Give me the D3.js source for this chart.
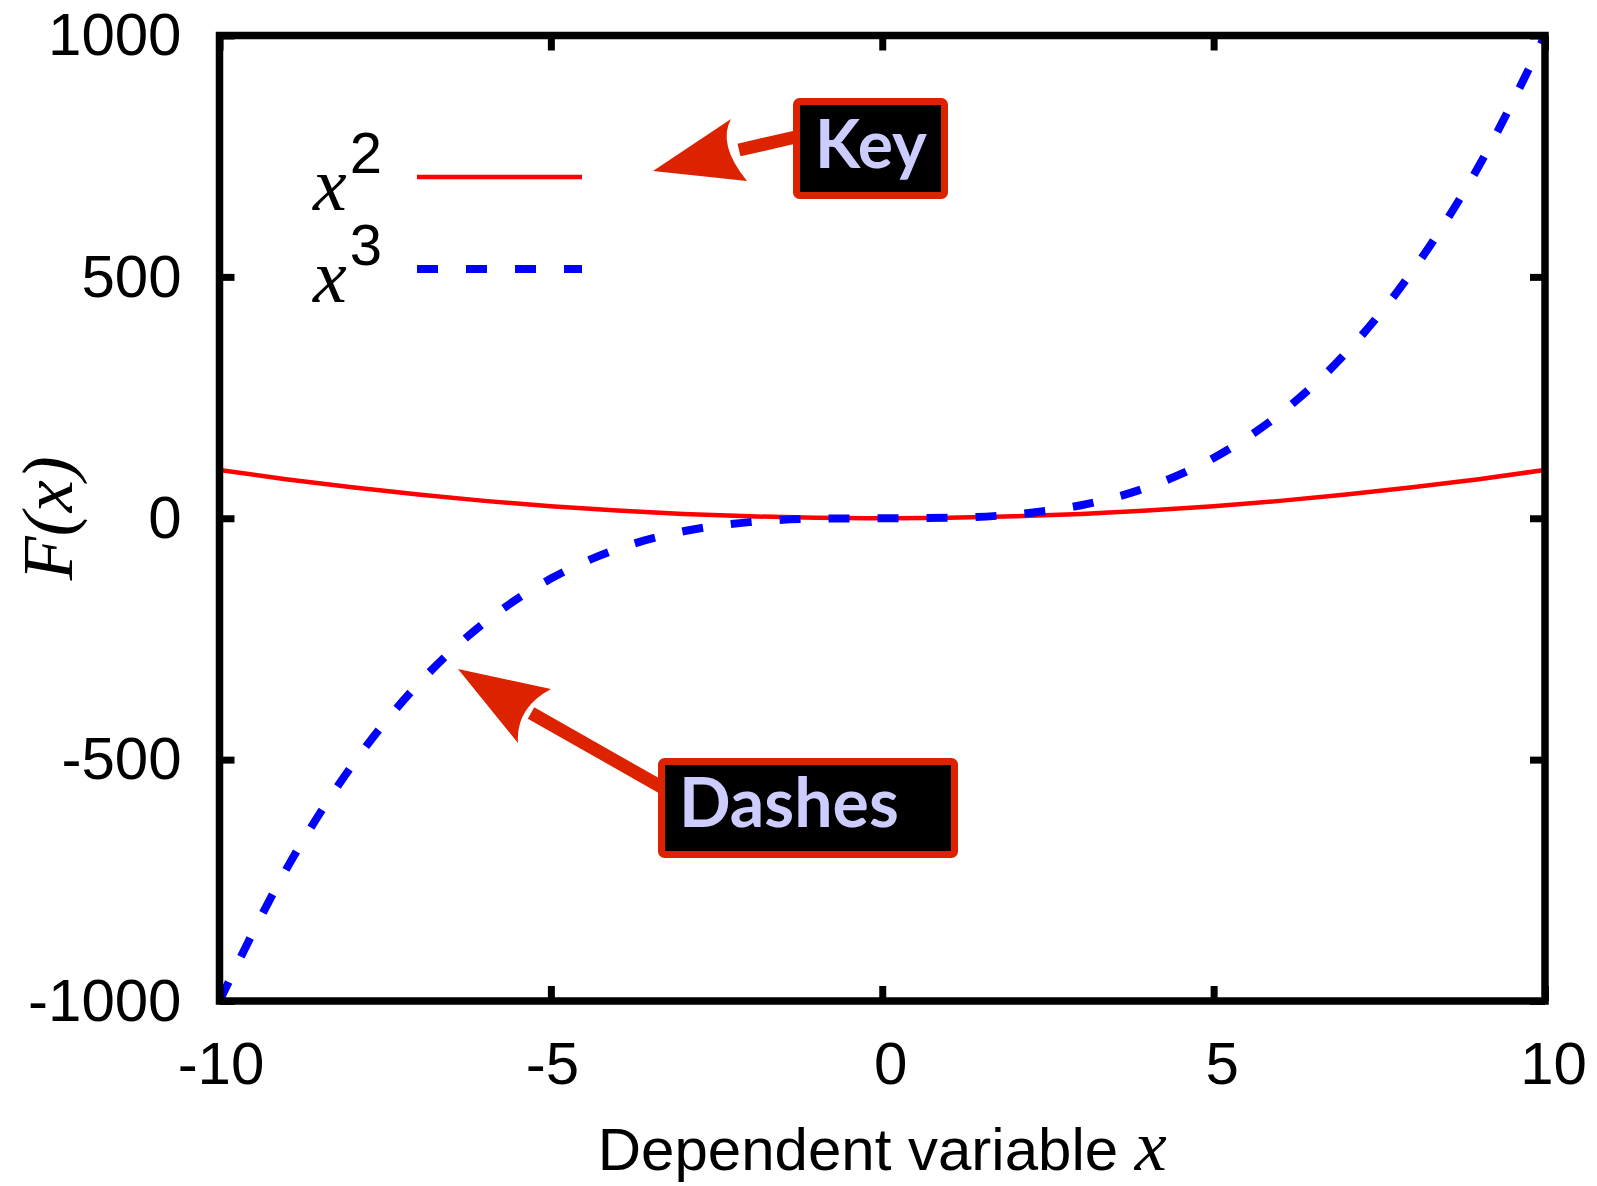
<!DOCTYPE html>
<html>
<head>
<meta charset="utf-8">
<script src="https://cdn.jsdelivr.net/npm/d3@7"></script>
<style>
    body { margin: 0; background: #fff; }
    svg { display: block; }
    .axis text { font-family: "Liberation Sans", Arial, Helvetica, sans-serif; font-size: 60px; fill: #000; }
    .math { font-family: "Liberation Serif", "Times New Roman", serif; font-style: italic; }
    .sans { font-family: "Liberation Sans", Arial, Helvetica, sans-serif; }
    .callout { font-family: Lato, "Open Sans", sans-serif; font-weight: 700; fill: #ccccff; }
</style>
</head>
<body>
<div id="chart"></div>
<script>
// values
const xValues = [-10, -9, -8, -7, -6, -5, -4, -3, -2, -1, 0, 1, 2, 3, 4, 5, 6, 7, 8, 9, 10];
const squareValues = [100, 81, 64, 49, 36, 25, 16, 9, 4, 1, 0, 1, 4, 9, 16, 25, 36, 49, 64, 81, 100];
const cubeValues = [-1000, -729, -512, -343, -216, -125, -64, -27, -8, -1, 0, 1, 8, 27, 64, 125, 216, 343, 512, 729, 1000];
const xTicks = [-10, -5, 0, 5, 10];
const yTicks = [-1000, -500, 0, 500, 1000];
const seriesNames = ["2", "3"];   // superscripts of x in the key
const xTitle = "Dependent variable ";
const yTitle = "F(x)";
const calloutLabels = ["Key", "Dashes"];

const W = 1597, H = 1186;
const frame = {left: 219.5, right: 1545, top: 35.5, bottom: 1001};
const red = "#ff0000", blue = "#0000ff", calloutRed = "#dd2200";

// plain labels like gnuplot: hyphen minus, no thousands separator
const plain = d => String(d);

const svg = d3.select("#chart").append("svg")
    .attr("width", W)
    .attr("height", H);

const x = d3.scaleLinear().domain([-10, 10]).range([frame.left, frame.right]);
const y = d3.scaleLinear().domain([-1000, 1000]).range([frame.bottom, frame.top]);

const series = [
    {name: seriesNames[0], values: squareValues, color: red, width: 4.5, dash: null},
    {name: seriesNames[1], values: cubeValues, color: blue, width: 8, dash: "21,28"}
];

// curves
const line = d3.line()
    .x(d => x(d[0]))
    .y(d => y(d[1]))
    .curve(d3.curveMonotoneX);

svg.selectAll(".curve")
    .data(series)
    .enter().append("path")
    .attr("class", "curve")
    .attr("d", s => line(xValues.map((v, i) => [v, s.values[i]])))
    .attr("fill", "none")
    .attr("stroke", s => s.color)
    .attr("stroke-width", s => s.width)
    .attr("stroke-dasharray", s => s.dash)
    .attr("stroke-linecap", "butt");

// axes, ticks point inward and are mirrored on top / right
function styleAxis(g) {
    g.attr("font-size", null).attr("font-family", null);
    g.select(".domain").remove();
    g.selectAll(".tick line").attr("stroke", "#000").attr("stroke-width", 7);
}

svg.append("g")
    .attr("class", "axis x-axis")
    .attr("transform", `translate(0,${frame.bottom})`)
    .call(d3.axisBottom(x).tickValues(xTicks).tickFormat(plain)
        .tickSizeInner(-15).tickSizeOuter(0).tickPadding(40))
    .call(styleAxis)
    .selectAll(".tick text").attr("dx", d => d >= 0 ? 8 : 1);

svg.append("g")
    .attr("class", "axis")
    .attr("transform", `translate(0,${frame.top})`)
    .call(d3.axisTop(x).tickValues(xTicks).tickSizeInner(-15).tickSizeOuter(0).tickFormat(""))
    .call(styleAxis);

svg.append("g")
    .attr("class", "axis y-axis")
    .attr("transform", `translate(${frame.left},0)`)
    .call(d3.axisLeft(y).tickValues(yTicks).tickFormat(plain)
        .tickSizeInner(-15).tickSizeOuter(0).tickPadding(38))
    .call(styleAxis);

svg.append("g")
    .attr("class", "axis")
    .attr("transform", `translate(${frame.right},0)`)
    .call(d3.axisRight(y).tickValues(yTicks).tickSizeInner(-15).tickSizeOuter(0).tickFormat(""))
    .call(styleAxis);

// border
svg.append("rect")
    .attr("x", frame.left)
    .attr("y", frame.top)
    .attr("width", frame.right - frame.left)
    .attr("height", frame.bottom - frame.top)
    .attr("fill", "none")
    .attr("stroke", "#000")
    .attr("stroke-width", 7.5);

// axis titles
const xt = svg.append("text")
    .attr("x", (frame.left + frame.right) / 2)
    .attr("y", 1170)
    .attr("text-anchor", "middle");
xt.append("tspan").attr("class", "sans").attr("font-size", 60).text(xTitle);
xt.append("tspan").attr("class", "math").attr("font-size", 72).text("x");

svg.append("text")
    .attr("class", "math")
    .attr("transform", `translate(48,${(frame.top + frame.bottom) / 2}) rotate(-90)`)
    .attr("text-anchor", "middle")
    .attr("dominant-baseline", "central")
    .attr("font-size", 72)
    .text(yTitle);

// key
const key = svg.selectAll(".key")
    .data(series)
    .enter().append("g")
    .attr("class", "key")
    .attr("transform", (d, i) => `translate(0,${i * 92})`);

const keyText = key.append("text")
    .attr("x", 313)
    .attr("y", 210);
keyText.append("tspan").attr("class", "math").attr("font-size", 76).text("x");
keyText.append("tspan").attr("class", "sans").attr("font-size", 58)
    .attr("dx", 3).attr("dy", -37).text(d => d.name);

key.append("line")
    .attr("x1", 417).attr("x2", 582)
    .attr("y1", 177).attr("y2", 177)
    .attr("stroke", d => d.color)
    .attr("stroke-width", d => d.width)
    .attr("stroke-dasharray", d => d.dash);

// callouts
const callouts = [
    {label: calloutLabels[0], size: 66, box: [796.5, 101.5, 148, 94], text: [815, 168],
     head: "M653,171 L731,119 Q717,144 747,181 Z", shaft: [739, 150, 800, 136]},
    {label: calloutLabels[1], size: 68, box: [661.5, 761.5, 293, 93], text: [679, 827],
     head: "M458,669 L551,689 Q515.5,708 518,743 Z", shaft: [531, 713, 672, 793]}
];

callouts.forEach(c => {
    svg.append("path").attr("d", c.head).attr("fill", calloutRed);
    svg.append("line")
        .attr("x1", c.shaft[0]).attr("y1", c.shaft[1])
        .attr("x2", c.shaft[2]).attr("y2", c.shaft[3])
        .attr("stroke", calloutRed)
        .attr("stroke-width", 13);
    svg.append("rect")
        .attr("x", c.box[0]).attr("y", c.box[1])
        .attr("width", c.box[2]).attr("height", c.box[3])
        .attr("rx", 3)
        .attr("fill", "#000")
        .attr("stroke", calloutRed)
        .attr("stroke-width", 7);
    svg.append("text")
        .attr("class", "callout")
        .attr("x", c.text[0]).attr("y", c.text[1])
        .attr("font-size", c.size)
        .text(c.label);
});
</script>
</body>
</html>
